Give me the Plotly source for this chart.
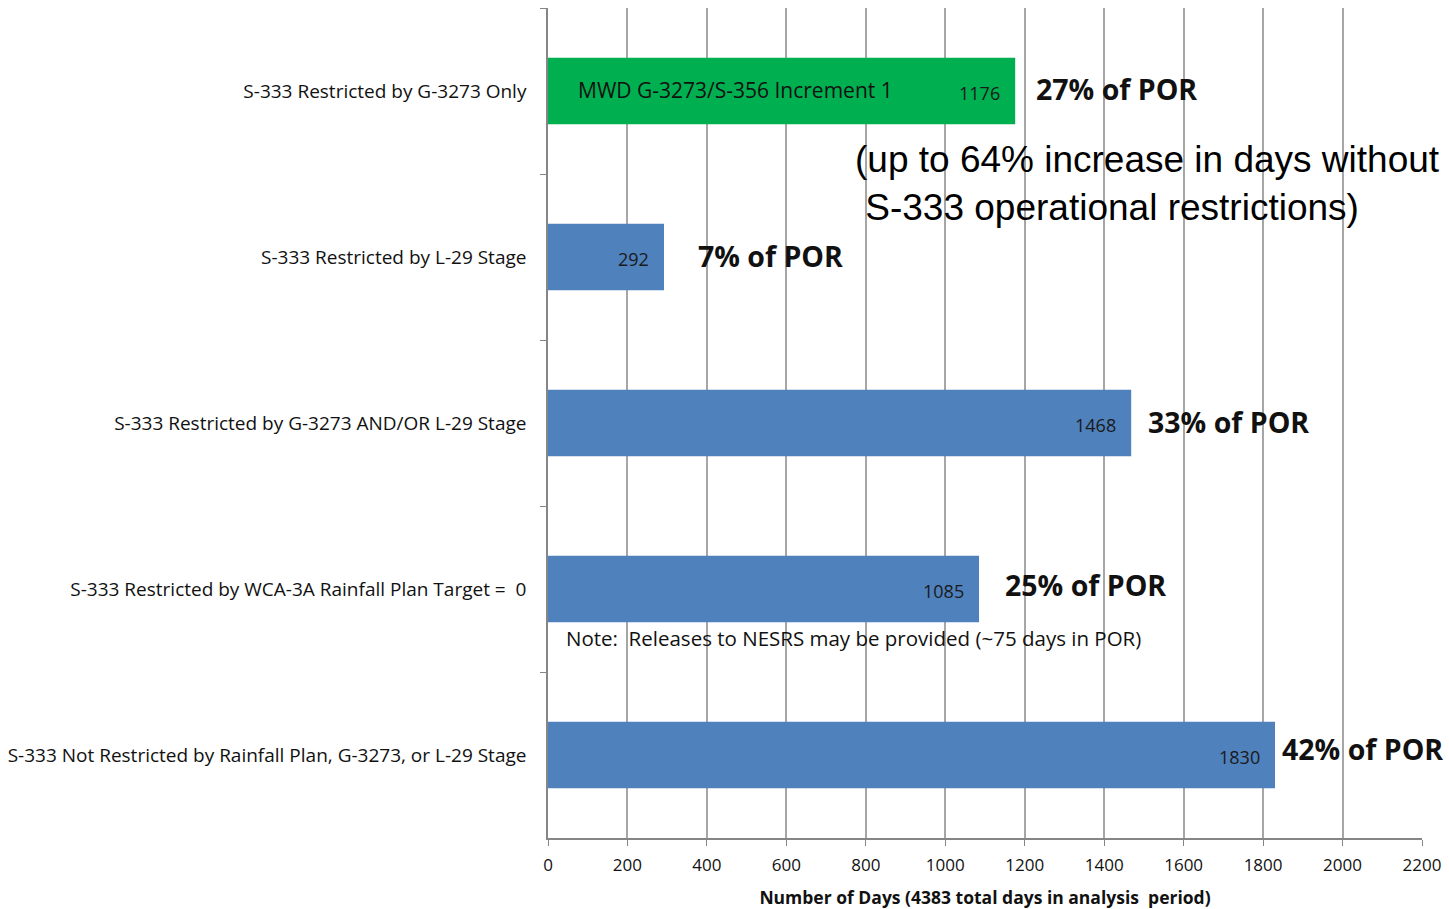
import plotly.graph_objects as go

# Categories listed top to bottom
categories = [
    "S-333 Restricted by G-3273 Only",
    "S-333 Restricted by L-29 Stage",
    "S-333 Restricted by G-3273 AND/OR L-29 Stage",
    "S-333 Restricted by WCA-3A Rainfall Plan Target =  0",
    "S-333 Not Restricted by Rainfall Plan, G-3273, or L-29 Stage",
]
days = [1176, 292, 1468, 1085, 1830]
bar_colors = ["#00B050", "#4F81BD", "#4F81BD", "#4F81BD", "#4F81BD"]
total_days = 4383
x_ticks = list(range(0, 2201, 200))

# pixel offsets of the "% of POR" callouts from each bar end
pct_xshift = [19, 32, 15, 24, 5]
pct_yshift = [2, 1, 1, 4, 6]

BODY = "Open Sans, sans-serif"
ARIAL = "Liberation Sans, Arial, sans-serif"

fig = go.Figure(
    go.Bar(
        y=categories,
        x=days,
        orientation="h",
        marker=dict(color=bar_colors, line=dict(width=0)),
        width=0.4,
        hoverinfo="x+y",
    )
)

annotations = []
for i, (cat, val) in enumerate(zip(categories, days)):
    # value label at the inside end of each bar
    annotations.append(dict(
        x=val, y=cat, xref="x", yref="y", text=str(val),
        showarrow=False, xanchor="right", xshift=-13, yshift=-2,
        font=dict(family=BODY, size=18, color="#1a1a1a"),
    ))
    # share of the period of record
    pct = round(100 * val / total_days)
    annotations.append(dict(
        x=val, y=cat, xref="x", yref="y", text=f"<b>{pct}% of POR</b>",
        showarrow=False, xanchor="left",
        xshift=pct_xshift[i], yshift=pct_yshift[i],
        font=dict(family=BODY, size=28.5, color="#111111"),
    ))

annotations += [
    dict(x=0, y=categories[0], xref="x", yref="y",
         text="MWD G-3273/S-356 Increment 1", showarrow=False,
         xanchor="left", xshift=28, yshift=1,
         font=dict(family=BODY, size=21, color="#111111")),
    dict(x=1, y=0.56, xref="paper", yref="y",
         text="(up to 64% increase in days without<br> S-333 operational restrictions)",
         showarrow=False, xanchor="right", yanchor="middle", align="left",
         xshift=20,
         font=dict(family=ARIAL, size=37, color="#000000")),
    dict(x=0, y=categories[3], xref="x", yref="y",
         text="Note:  Releases to NESRS may be provided (~75 days in POR)",
         showarrow=False, xanchor="left", xshift=16, yshift=-49,
         font=dict(family=BODY, size=20.5, color="#111111")),
]

fig.update_layout(
    width=1449, height=909,
    margin=dict(l=548, r=27, t=8, b=71),
    paper_bgcolor="white", plot_bgcolor="white",
    showlegend=False,
    bargap=0.6,
    annotations=annotations,
    xaxis=dict(
        range=[0, 2200], tickvals=x_ticks, ticktext=[str(v) for v in x_ticks],
        showgrid=True, gridcolor="#a6a6a6", gridwidth=1.5,
        showline=True, linecolor="#868686", linewidth=1.5,
        ticks="outside", ticklen=6, tickcolor="#868686",
        ticklabelstandoff=5,
        tickfont=dict(family=BODY, size=17, color="#111111"),
        title=dict(text="<b>Number of Days (4383 total days in analysis  period)</b>",
                   font=dict(family=BODY, size=17.5, color="#111111"), standoff=20),
        zeroline=False, fixedrange=True, automargin=False,
    ),
    yaxis=dict(
        categoryorder="array", categoryarray=categories,
        range=[len(categories) - 0.5, -0.5],
        showgrid=False, showline=True, linecolor="#868686", linewidth=1.5,
        ticks="outside", ticklen=6, tickcolor="#868686", tickson="boundaries",
        ticklabelstandoff=16,
        tickfont=dict(family=BODY, size=19, color="#111111"),
        fixedrange=True, automargin=False,
    ),
)

fig.write_html("out.html")
